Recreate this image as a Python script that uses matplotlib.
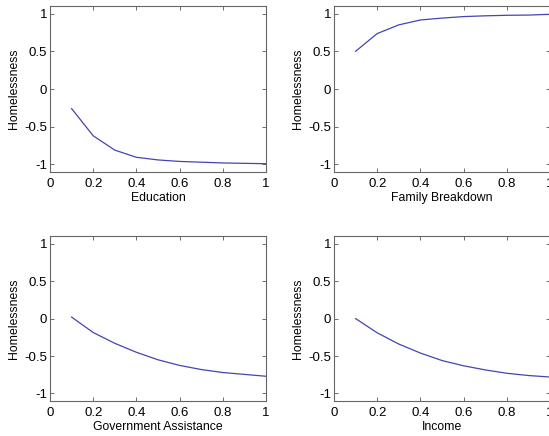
import matplotlib
matplotlib.use("Agg")
import matplotlib.pyplot as plt

plt.rcParams['font.family'] = ['Liberation Sans', 'DejaVu Sans']

# data
x = [0.1, 0.2, 0.3, 0.4, 0.5, 0.6, 0.7, 0.8, 0.9, 1.0]
education = [-0.26, -0.62, -0.81, -0.905, -0.94, -0.96, -0.97, -0.98, -0.985, -0.99]
family = [0.50, 0.735, 0.85, 0.915, 0.94, 0.96, 0.97, 0.977, 0.98, 0.99]
government = [0.02, -0.186, -0.33, -0.45, -0.55, -0.625, -0.68, -0.72, -0.745, -0.77]
income = [0.0, -0.19, -0.34, -0.46, -0.56, -0.63, -0.685, -0.73, -0.76, -0.78]

xlabels = ["Education", "Family Breakdown", "Government Assistance", "Income"]
series = [education, family, government, income]
xticks = [0, 0.2, 0.4, 0.6, 0.8, 1]
yticks = [-1, -0.5, 0, 0.5, 1]
ytick_labels = ["-1", "-0.5", "0", "0.5", "1"]
xtick_labels = ["0", "0.2", "0.4", "0.6", "0.8", "1"]

# axes positions (fig fraction) to match the MATLAB layout
positions = [
    [0.0911, 0.6055, 0.3934, 0.3807],
    [0.6084, 0.6055, 0.3934, 0.3807],
    [0.0911, 0.0803, 0.3934, 0.3780],
    [0.6084, 0.0803, 0.3934, 0.3780],
]

fig = plt.figure(figsize=(5.49, 4.36), dpi=100)

for pos, vals, lab in zip(positions, series, xlabels):
    ax = fig.add_axes(pos)
    ax.plot(x, vals, color='#4444b4', linewidth=0.9)
    ax.set_xlim(0, 1)
    ax.set_ylim(-1.1, 1.1)
    ax.set_xticks(xticks)
    ax.set_xticklabels(xtick_labels)
    ax.set_yticks(yticks)
    ax.set_yticklabels(ytick_labels)
    ax.tick_params(direction='in', top=True, right=True, length=3,
                   width=0.6, labelsize=9.5, colors='#555555',
                   labelcolor='black')
    ax.tick_params(axis='x', pad=4)
    ax.tick_params(axis='y', pad=2)
    for s in ax.spines.values():
        s.set_linewidth(0.8)
        s.set_color('#666666')
    ax.set_xlabel(lab, fontsize=8.8, labelpad=2)
    ax.set_ylabel("Homelessness", fontsize=8.8, labelpad=3)

fig.savefig("out.png", dpi=100)
